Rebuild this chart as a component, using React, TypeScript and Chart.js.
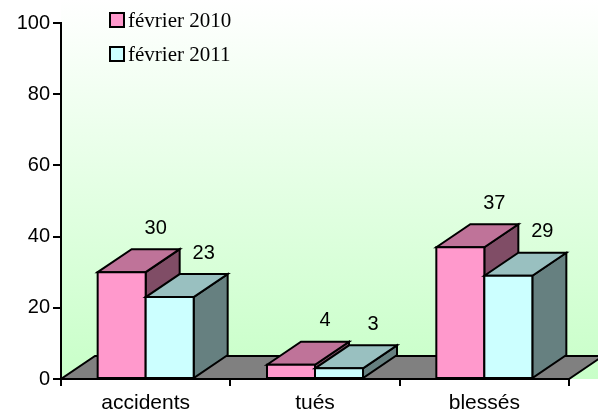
import React, { useEffect, useRef } from 'react';
import { Chart, registerables } from 'chart.js';

Chart.register(...registerables);

// ---- data ----
const categories = ['accidents', 'tués', 'blessés'];
const seriesNames = ['février 2010', 'février 2011'];
const values2010 = [30, 4, 37];
const values2011 = [23, 3, 29];
const yMin = 0;
const yMax = 100;
const yStep = 20;

// ---- style ----
const SANS = '"Liberation Sans", Arial, sans-serif';
const SERIF = '"Liberation Serif", "Times New Roman", serif';
const DX = 34;
const DY = 23;
const FACE_COLORS = [
  { front: '#FF99CC', top: '#BF7399', side: '#804D66' },
  { front: '#CCFFFF', top: '#99C0C0', side: '#668080' },
];

function poly(ctx: CanvasRenderingContext2D, pts: number[][], fill: string) {
  ctx.beginPath();
  ctx.moveTo(pts[0][0], pts[0][1]);
  for (let i = 1; i < pts.length; i++) ctx.lineTo(pts[i][0], pts[i][1]);
  ctx.closePath();
  ctx.fillStyle = fill;
  ctx.fill();
  ctx.stroke();
}

const threeD = {
  id: 'threeD',
  beforeDraw(chart: any) {
    const { ctx, chartArea, width } = chart;
    const g = ctx.createLinearGradient(0, 0, 0, chartArea.bottom);
    g.addColorStop(0, '#FFFFFF');
    g.addColorStop(1, '#C8FFC8');
    ctx.save();
    ctx.fillStyle = g;
    ctx.fillRect(chartArea.left, 0, width - chartArea.left, chartArea.bottom);
    ctx.restore();
  },
  beforeDatasetsDraw(chart: any) {
    const { ctx, chartArea } = chart;
    const y0 = chart.scales.y.getPixelForValue(0);
    const L = chartArea.left;
    const R = chartArea.right;
    ctx.save();
    ctx.lineWidth = 2;
    ctx.strokeStyle = '#000';
    ctx.lineJoin = 'miter';
    poly(ctx, [[L, y0], [R, y0], [R + DX, y0 - DY], [L + DX, y0 - DY]], '#808080');
    ctx.restore();
  },
  afterDatasetsDraw(chart: any) {
    const { ctx } = chart;
    ctx.save();
    ctx.lineWidth = 2;
    ctx.strokeStyle = '#000';
    ctx.lineJoin = 'miter';
    const n = categories.length;
    for (let c = 0; c < n; c++) {
      chart.data.datasets.forEach((ds: any, di: number) => {
        const meta = chart.getDatasetMeta(di);
        const el: any = meta.data[c];
        if (!el) return;
        const { x, y, base, width } = el.getProps(['x', 'y', 'base', 'width'], true);
        const l = x - width / 2;
        const r = x + width / 2;
        const col = FACE_COLORS[di];
        poly(ctx, [[r, y], [r + DX, y - DY], [r + DX, base - DY], [r, base]], col.side);
        poly(ctx, [[l, y], [l + DX, y - DY], [r + DX, y - DY], [r, y]], col.top);
        poly(ctx, [[l, y], [r, y], [r, base], [l, base]], col.front);
      });
    }
    // value labels
    ctx.fillStyle = '#000';
    ctx.font = `20px ${SANS}`;
    ctx.textAlign = 'center';
    ctx.textBaseline = 'middle';
    chart.data.datasets.forEach((ds: any, di: number) => {
      const meta = chart.getDatasetMeta(di);
      meta.data.forEach((el: any, i: number) => {
        const { x, y } = el.getProps(['x', 'y'], true);
        ctx.fillText(String(ds.data[i]), x + DX, y - DY - 21);
      });
    });
    ctx.restore();
  },
  afterDraw(chart: any) {
    const { ctx } = chart;
    ctx.save();
    chart.data.datasets.forEach((ds: any, di: number) => {
      const sy = 13 + di * 34;
      ctx.fillStyle = FACE_COLORS[di].front;
      ctx.strokeStyle = '#000';
      ctx.lineWidth = 2;
      ctx.fillRect(110, sy, 14, 14);
      ctx.strokeRect(110, sy, 14, 14);
      ctx.fillStyle = '#000';
      ctx.font = `21px ${SERIF}`;
      ctx.textAlign = 'left';
      ctx.textBaseline = 'alphabetic';
      ctx.fillText(ds.label, 128, 27 + di * 34);
    });
    ctx.restore();
  },
};

export default function App() {
  const ref = useRef<HTMLCanvasElement>(null);
  useEffect(() => {
    if (!ref.current) return;
    const chart = new Chart(ref.current, {
      type: 'bar',
      data: {
        labels: categories,
        datasets: [
          { label: seriesNames[0], data: values2010, backgroundColor: 'rgba(0,0,0,0)', borderWidth: 0 },
          { label: seriesNames[1], data: values2011, backgroundColor: 'rgba(0,0,0,0)', borderWidth: 0 },
        ],
      },
      options: {
        animation: false,
        responsive: false,
        categoryPercentage: 0.567,
        barPercentage: 1,
        layout: { padding: { top: 23, right: 29, left: 0, bottom: 0 } },
        plugins: { legend: { display: false }, tooltip: { enabled: false } },
        events: [],
        scales: {
          x: {
            grid: { display: true, drawOnChartArea: false, drawTicks: true, tickLength: 7, color: '#000', lineWidth: 2, offset: true },
            border: { display: true, color: '#000', width: 2 },
            ticks: { color: '#000', font: { family: SANS, size: 21 }, padding: 5 },
            afterFit: (s: any) => { s.height = 38; },
          },
          y: {
            min: yMin,
            max: yMax,
            ticks: { stepSize: yStep, color: '#000', font: { family: SANS, size: 20 }, padding: 3 },
            grid: { display: true, drawOnChartArea: false, drawTicks: true, tickLength: 8, color: '#000', lineWidth: 2 },
            border: { display: true, color: '#000', width: 2 },
            afterFit: (s: any) => { s.width = 61; },
          },
        },
      },
      plugins: [threeD],
    } as any);
    return () => chart.destroy();
  }, []);
  return (
    <div style={{ position: 'absolute', left: 0, top: 0, width: 598, height: 417 }}>
      <canvas ref={ref} width={598} height={417} style={{ display: 'block' }} />
    </div>
  );
}
